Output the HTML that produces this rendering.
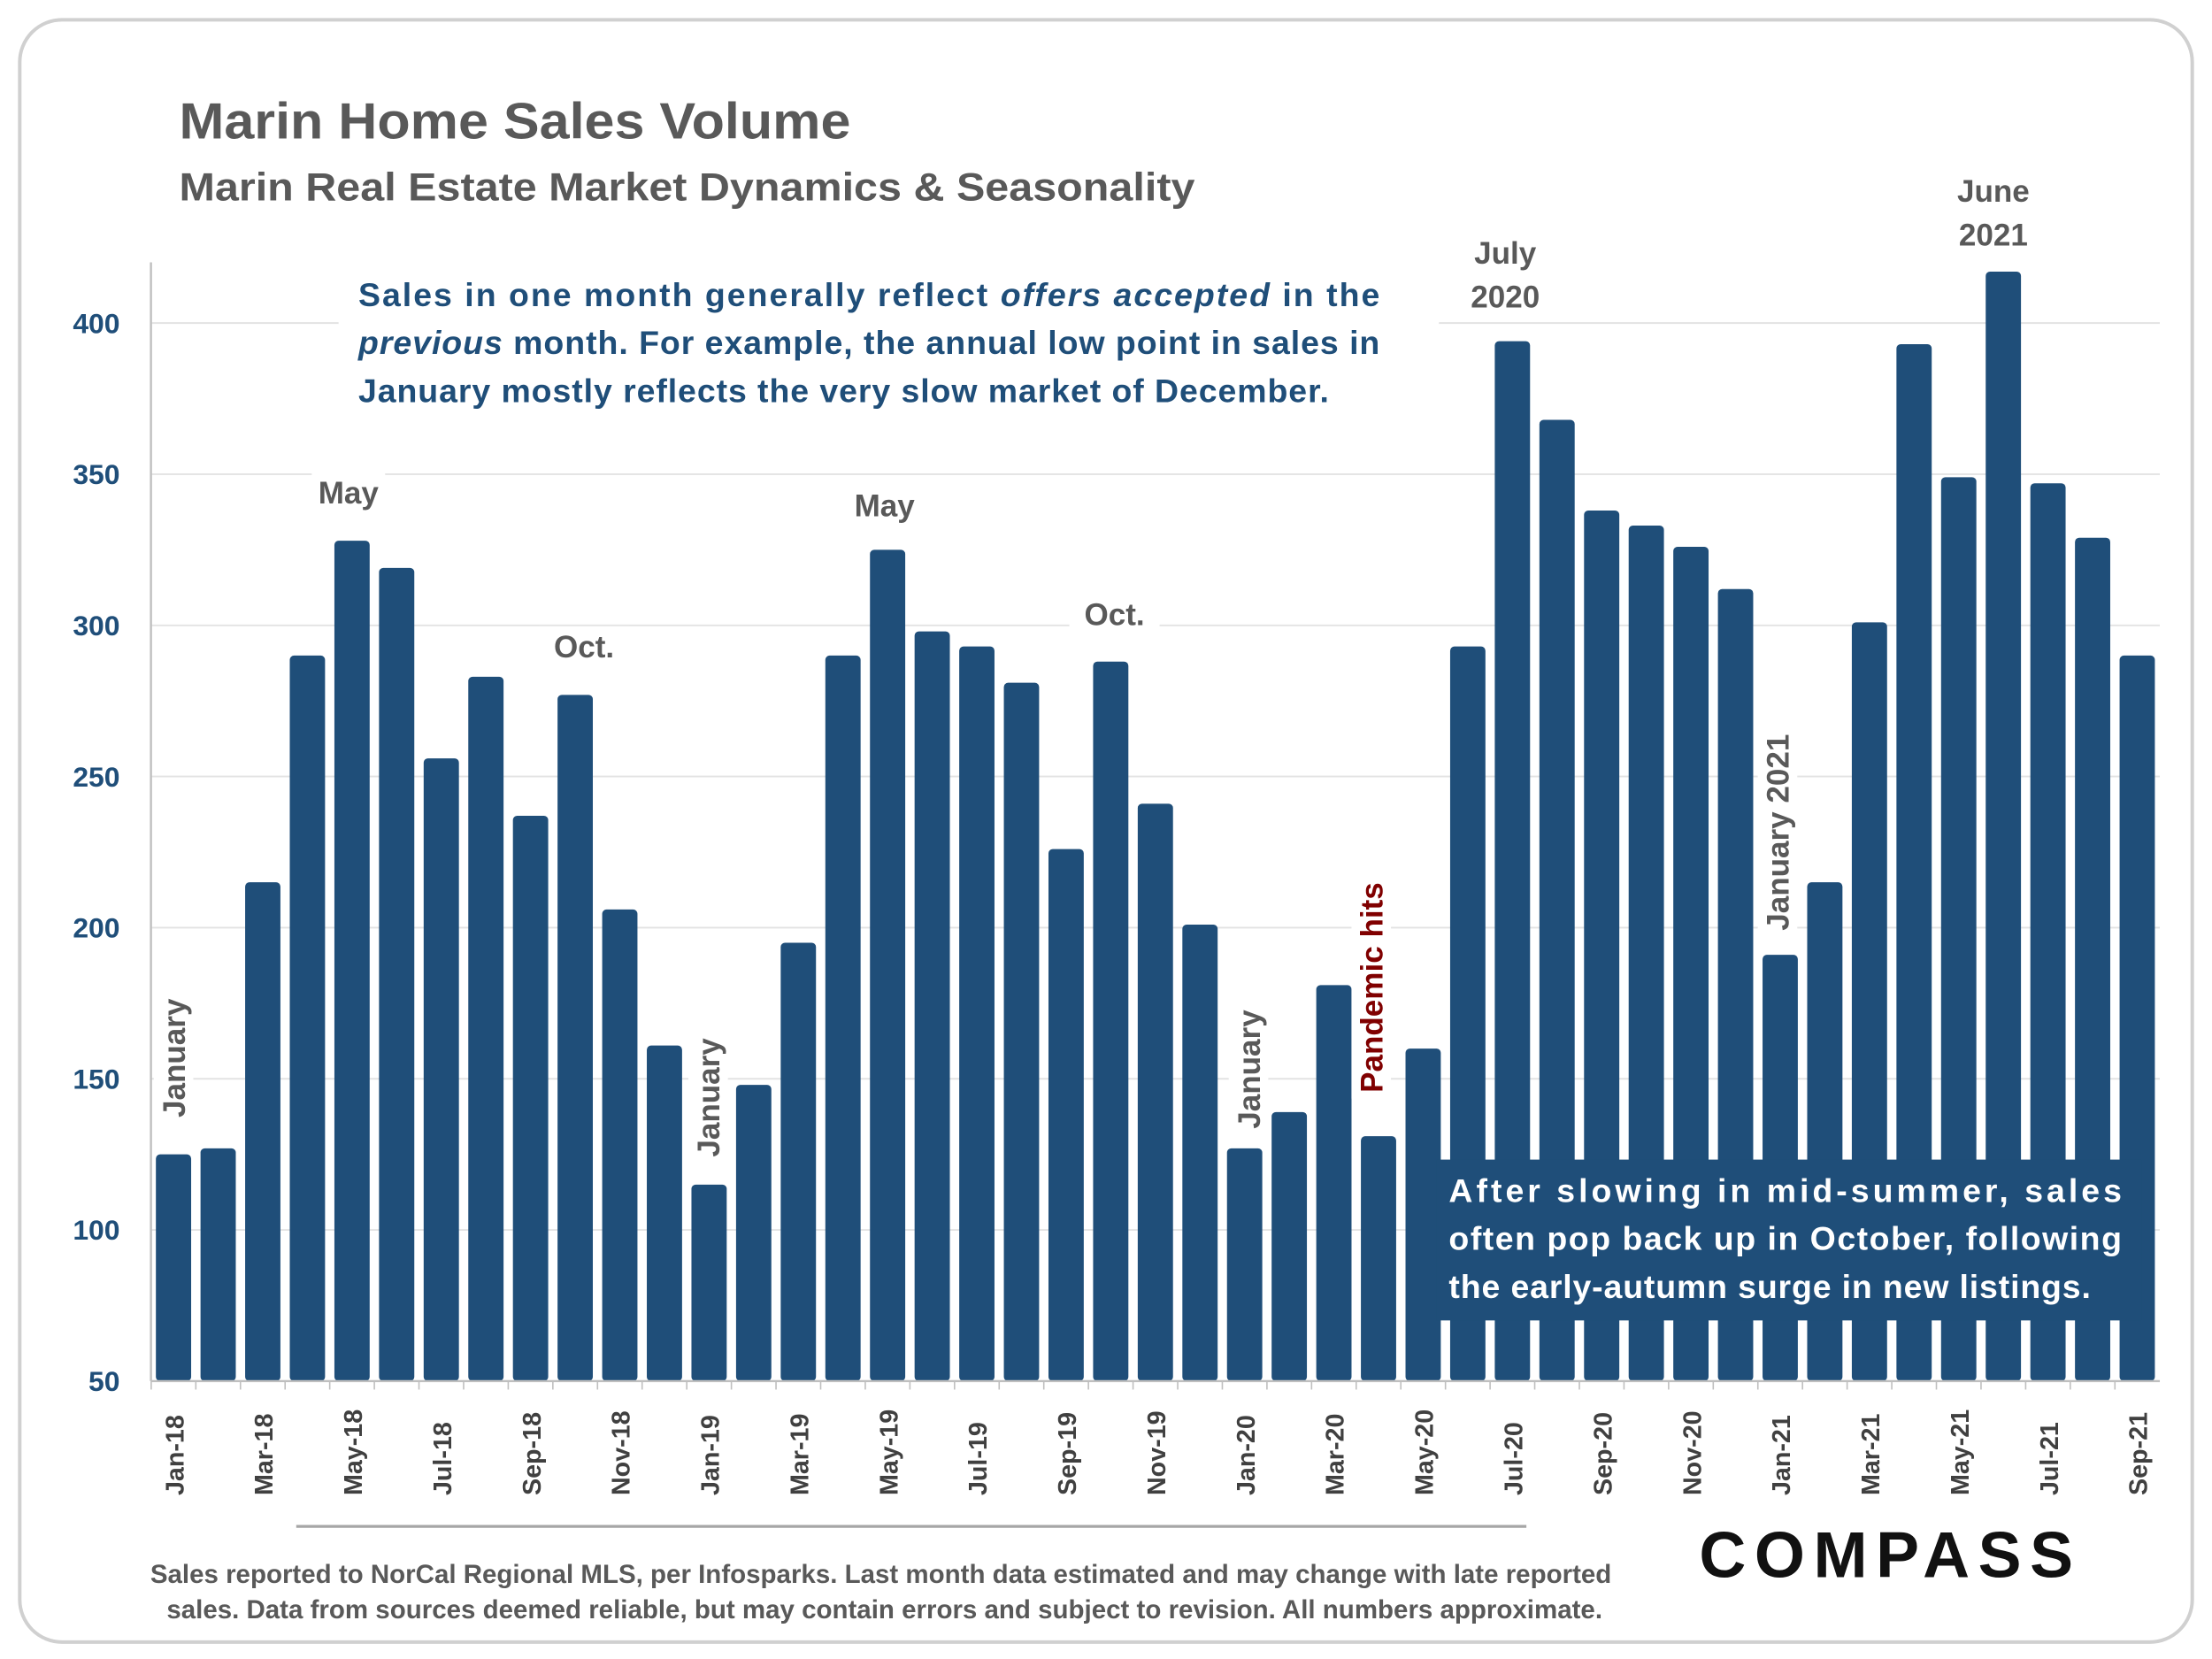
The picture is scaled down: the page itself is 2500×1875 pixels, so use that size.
<!DOCTYPE html>
<html><head><meta charset="utf-8"><style>
html,body{margin:0;padding:0;background:#fff}
svg{display:block}
text{font-family:"Liberation Sans",sans-serif}
</style></head><body>
<svg id="chart" width="2500" height="1875" viewBox="0 0 1568 1176" xmlns="http://www.w3.org/2000/svg">
<rect x="14" y="14" width="1540" height="1150" rx="30" fill="#fff" stroke="#d0d0d0" stroke-width="2.5"/>
<text x="127" y="98" font-size="36" font-weight="bold" fill="#595959" textLength="476" lengthAdjust="spacingAndGlyphs">Marin Home Sales Volume</text>
<text x="127" y="142" font-size="28" font-weight="bold" fill="#595959" textLength="720" lengthAdjust="spacingAndGlyphs">Marin Real Estate Market Dynamics &amp; Seasonality</text>
<g id="grid"></g>
<g id="yaxis"></g>
<g id="bars"></g>
<g id="xaxis"></g>
<g id="notes">
<rect x="240" y="188" width="780" height="110" fill="#fff"/>
<text font-size="23.5" font-weight="bold" fill="#1f4e79">
<tspan x="254" y="217" textLength="724" lengthAdjust="spacing">Sales in one month generally reflect <tspan font-style="italic">offers accepted</tspan> in the</tspan>
<tspan x="254" y="251" textLength="724" lengthAdjust="spacing"><tspan font-style="italic">previous</tspan> month. For example, the annual low point in sales in</tspan>
<tspan x="254" y="285" textLength="688" lengthAdjust="spacing">January mostly reflects the very slow market of December.</tspan></text>
<rect x="1018" y="822" width="500" height="114" fill="#1f4e79"/>
<text font-size="23.5" font-weight="bold" fill="#fff">
<tspan x="1027" y="852" textLength="477" lengthAdjust="spacing">After slowing in mid-summer, sales</tspan>
<tspan x="1027" y="886" textLength="477" lengthAdjust="spacing">often pop back up in October, following</tspan>
<tspan x="1027" y="920" textLength="455" lengthAdjust="spacing">the early-autumn surge in new listings.</tspan></text>
</g>
<g id="labels" font-size="22" font-weight="bold" fill="#595959"></g>
<line x1="210" y1="1082" x2="1082" y2="1082" stroke="#a6a6a6" stroke-width="2"/>
<text font-size="18.5" font-weight="bold" fill="#595959" text-anchor="middle">
<tspan x="627" y="1122">Sales reported to NorCal Regional MLS, per Infosparks. Last month data estimated and may change with late reported</tspan>
<tspan x="627" y="1147">sales. Data from sources deemed reliable, but may contain errors and subject to revision. All numbers approximate.</tspan></text>
<text x="1340" y="1118" font-size="46" font-weight="bold" fill="#111" text-anchor="middle" letter-spacing="6">COMPASS</text>
</svg>
<script>
const months=["Jan-18","Feb-18","Mar-18","Apr-18","May-18","Jun-18","Jul-18","Aug-18","Sep-18","Oct-18","Nov-18","Dec-18","Jan-19","Feb-19","Mar-19","Apr-19","May-19","Jun-19","Jul-19","Aug-19","Sep-19","Oct-19","Nov-19","Dec-19","Jan-20","Feb-20","Mar-20","Apr-20","May-20","Jun-20","Jul-20","Aug-20","Sep-20","Oct-20","Nov-20","Dec-20","Jan-21","Feb-21","Mar-21","Apr-21","May-21","Jun-21","Jul-21","Aug-21","Sep-21"];
const sales=[125,127,215,290,328,319,256,283,237,277,206,161,115,148,195,290,325,298,293,281,226,288,241,201,127,139,181,131,160,293,394,368,338,333,326,312,191,215,301,393,349,417,347,329,290];
const yTicks=[50,100,150,200,250,300,350,400];
const NS="http://www.w3.org/2000/svg";
const y0=979,pxPer=750/350,xL=107,xR=1531,x0=123,step=(1515-123)/44,bw=25;
const Y=v=>y0-(v-50)*pxPer;
const X=i=>x0+i*step;
function mk(tag,attrs,parent){const e=document.createElementNS(NS,tag);for(const k in attrs)e.setAttribute(k,attrs[k]);parent.appendChild(e);return e;}
const grid=document.getElementById('grid'),ya=document.getElementById('yaxis'),bars=document.getElementById('bars'),xa=document.getElementById('xaxis'),lab=document.getElementById('labels');
yTicks.forEach(t=>{
 if(t>50){const l=mk('line',{x1:xL,x2:xR,y1:Y(t),y2:Y(t),stroke:'#e3e3e3','stroke-width':1.2},grid);
 
 }
 const tx=mk('text',{x:85,y:Y(t)+7,'font-size':20,'font-weight':'bold',fill:'#1f4e79','text-anchor':'end'},ya);
 tx.textContent=t;
 
 
});
const ax=mk('line',{x1:xL,x2:xL,y1:186,y2:y0,stroke:'#bfbfbf','stroke-width':1.5},ya);


const bx=mk('line',{x1:xL,x2:xR,y1:y0,y2:y0,stroke:'#bfbfbf','stroke-width':1.5},xa);


sales.forEach((v,i)=>{
 const r=mk('rect',{x:X(i)-bw/2,y:Y(v),width:bw,height:y0-Y(v),rx:3,fill:'#1f4e79'},bars);
 
 
 if(i%2===0){
  const t=mk('text',{transform:`translate(${X(i)+7},1060) rotate(-90)`,'font-size':18,'font-weight':'bold',fill:'#404040'},xa);
  t.textContent=months[i];
  
  
 }
 const tk=mk('line',{x1:X(i)-step/2,x2:X(i)-step/2,y1:y0,y2:y0+6,stroke:'#bfbfbf'},xa);
 
 
});
const anns=[["May",247,357,0,'#595959'],["Oct.",414,466,0,'#595959'],["May",627,366,0,'#595959'],["Oct.",790,443,0,'#595959'],["July",1067,187,0,'#595959'],["2020",1067,218,0,'#595959'],["June",1413,143,0,'#595959'],["2021",1413,174,0,'#595959'],
["January",131,750,1,'#595959'],["January",510,778,1,'#595959'],["January",893,758,1,'#595959'],["Pandemic hits",980,700,1,'#800000'],["January 2021",1268,590,1,'#595959']];
anns.forEach(a=>{
 let t;
 if(a[3]){const w=a[0].length*11.5;
  const bg=mk('rect',{x:a[1]-22,y:a[2]-w/2-4,width:28,height:w+8,fill:'#fff'},lab);
  
  
  t=mk('text',{transform:`translate(${a[1]},${a[2]}) rotate(-90)`,'text-anchor':'middle',fill:a[4]},lab);}
 else{const w=a[0].length*12+16;
  const bg=mk('rect',{x:a[1]-w/2,y:a[2]-22,width:w,height:30,fill:'#fff'},lab);
  
  
  t=mk('text',{x:a[1],y:a[2],'text-anchor':'middle',fill:a[4]},lab);}
 t.textContent=a[0];
 
 
});
</script>
</body></html>
